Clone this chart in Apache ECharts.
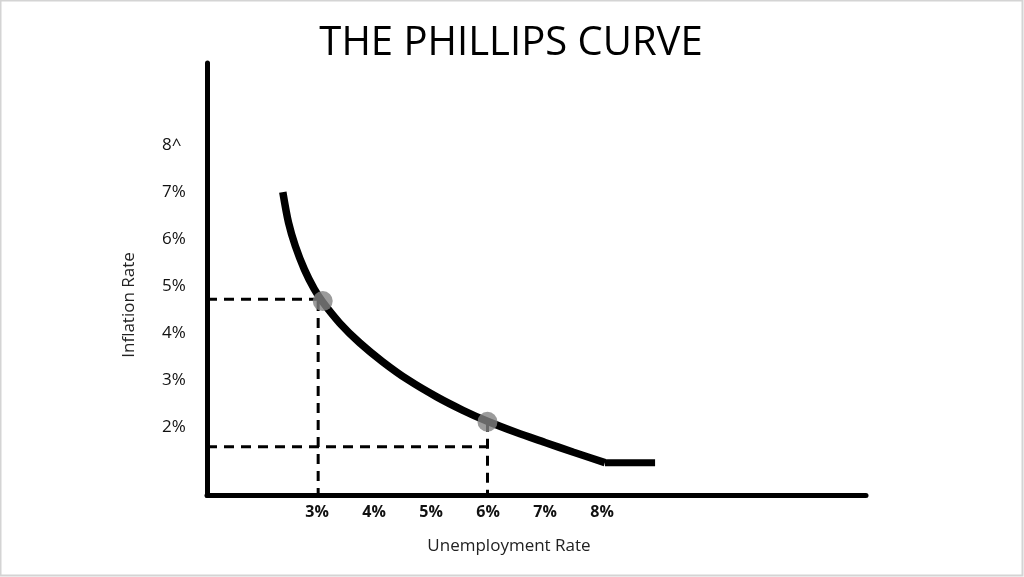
<!DOCTYPE html>
<html>
<head>
<meta charset="utf-8">
<script src="https://cdn.jsdelivr.net/npm/echarts@6/dist/echarts.min.js"></script>
<style>
html,body{margin:0;padding:0;background:#fff;}
#c{width:1024px;height:577px;}
</style>
</head>
<body>
<div id="c"></div>
<script>
// ---- data ----
const titleText = 'THE PHILLIPS CURVE';
const xName = 'Unemployment Rate';
const yName = 'Inflation Rate';
const xTicks = [3, 4, 5, 6, 7, 8];
const yTicks = [2, 3, 4, 5, 6, 7, 8];
const yTickLabels = ['2%', '3%', '4%', '5%', '6%', '7%', '8^'];
const xTickLabels = ['3%', '4%', '5%', '6%', '7%', '8%'];
const xRange = [1.07, 12.63];
const yRange = [0.54, 9.75];
const curveX = [2.40, 2.50, 2.62, 2.78, 2.95, 3.10, 3.40, 3.75, 4.15, 4.60, 5.10, 5.55, 5.99, 6.50, 7.00, 7.50, 8.05];
const curveY = [7.00, 6.35, 5.85, 5.35, 4.94, 4.66, 4.21, 3.79, 3.39, 3.00, 2.64, 2.36, 2.12, 1.88, 1.67, 1.46, 1.24];
const flatX = [8.05, 8.93];
const flatY = [1.24, 1.24];
const pointX = [3.10, 5.99];
const pointY = [4.68, 2.11];
const guideX = [3.02, 5.99];      // vertical dashed guides
const guideY = [4.72, 1.58];      // horizontal dashed guides
const guideTop = [4.68, 2.11];    // top of vertical guides

const font = '"Open Sans", "DejaVu Sans", sans-serif';
const zip = (a, b) => a.map((v, i) => [v, b[i]]);

const series = [];
guideY.forEach((gy, i) => {
  series.push({
    type: 'line', data: [[xRange[0], gy], [pointX[i], gy]],
    symbol: 'none', lineStyle: { color: '#000', width: 3, type: [10, 7] }, z: 2, silent: true
  });
  series.push({
    type: 'line', data: [[guideX[i], guideTop[i]], [guideX[i], yRange[0]]],
    symbol: 'none', lineStyle: { color: '#000', width: 3, type: [10, 7] }, z: 2, silent: true
  });
});
series.push({
  type: 'line', data: zip(curveX, curveY), smooth: 0.3, symbol: 'none',
  lineStyle: { color: '#000', width: 7.5, cap: 'butt' }, z: 3
});
series.push({
  type: 'line', data: zip(flatX, flatY), symbol: 'none',
  lineStyle: { color: '#000', width: 7, cap: 'butt' }, z: 3
});
series.push({
  type: 'scatter', data: zip(pointX, pointY), symbolSize: 20,
  itemStyle: { color: '#828282' }, z: 5
});

const chart = echarts.init(document.getElementById('c'), null, { renderer: 'canvas' });
chart.setOption({
  animation: false,
  backgroundColor: '#fff',
  grid: { left: 207, right: 158, top: 63, bottom: 81.5, containLabel: false },
  xAxis: {
    type: 'value', min: xRange[0], max: xRange[1],
    axisLine: { show: true, lineStyle: { color: '#000', width: 5 } },
    axisTick: { show: false },
    splitLine: { show: false },
    axisLabel: {
      customValues: xTicks,
      formatter: v => xTickLabels[xTicks.indexOf(Math.round(v))] || '',
      color: '#111', fontFamily: font, fontSize: 16, fontWeight: 'bold', margin: 9
    }
  },
  yAxis: {
    type: 'value', min: yRange[0], max: yRange[1],
    axisLine: { show: true, onZero: false, lineStyle: { color: '#000', width: 5 } },
    axisTick: { show: false },
    splitLine: { show: false },
    axisLabel: {
      customValues: yTicks,
      formatter: v => yTickLabels[yTicks.indexOf(Math.round(v))] || '',
      color: '#111', fontFamily: font, fontSize: 17, align: 'left', margin: 45
    }
  },
  graphic: [
    { type: 'rect', shape: { x: 0.5, y: 0.5, width: 1022, height: 575 },
      style: { fill: 'none', stroke: '#d4d4d4', lineWidth: 2 }, silent: true, z: 100 },
    { type: 'text', x: 511, y: 44, style: { text: titleText, fontFamily: font, fontSize: 40,
      fill: '#000', align: 'center', verticalAlign: 'middle' } },
    { type: 'text', x: 509, y: 546, style: { text: xName, fontFamily: font, fontSize: 17,
      fill: '#222', align: 'center', verticalAlign: 'middle' } },
    { type: 'text', x: 129, y: 305, rotation: Math.PI / 2, style: { text: yName, fontFamily: font, fontSize: 17,
      fill: '#222', align: 'center', verticalAlign: 'middle' } }
  ],
  series: series
});
</script>
</body>
</html>
